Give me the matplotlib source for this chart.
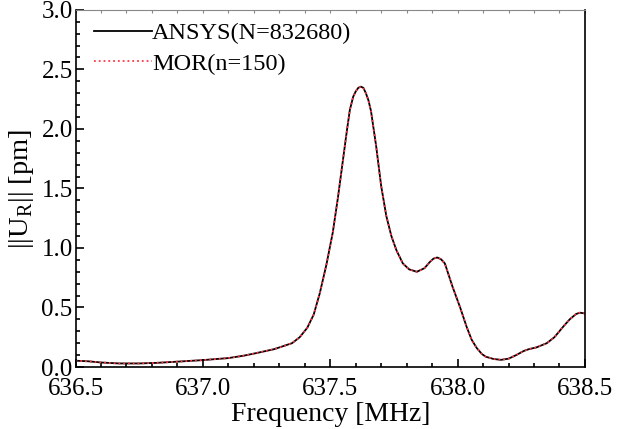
import numpy as np
import matplotlib
matplotlib.use('Agg')
from matplotlib import pyplot as plt
from matplotlib.ticker import MultipleLocator, FormatStrFormatter

# frequency [MHz] and response ||U_R|| [pm]
freq = [636.50, 636.55, 636.60, 636.67, 636.75, 636.82, 636.90, 637.00, 637.10,
        637.16, 637.21, 637.28, 637.35, 637.38, 637.41, 637.435, 637.459, 637.485,
        637.51, 637.53, 637.55, 637.565, 637.577, 637.59, 637.60, 637.61, 637.62,
        637.63, 637.64, 637.65, 637.66, 637.68, 637.70, 637.72, 637.74, 637.76,
        637.785, 637.81, 637.84, 637.87, 637.89, 637.905, 637.92, 637.935, 637.95,
        637.98, 638.01, 638.035, 638.055, 638.075, 638.095, 638.11, 638.14, 638.17,
        638.20, 638.23, 638.26, 638.28, 638.31, 638.35, 638.38, 638.415, 638.44,
        638.465, 638.48, 638.50]
ansys = [0.053, 0.048, 0.038, 0.030, 0.030, 0.035, 0.045, 0.058, 0.075,
         0.095, 0.117, 0.150, 0.200, 0.250, 0.330, 0.440, 0.620, 0.860,
         1.130, 1.420, 1.740, 1.980, 2.160, 2.270, 2.315, 2.345, 2.355,
         2.345, 2.300, 2.240, 2.150, 1.860, 1.520, 1.270, 1.100, 0.980,
         0.870, 0.820, 0.800, 0.830, 0.880, 0.910, 0.920, 0.905, 0.870,
         0.675, 0.500, 0.340, 0.230, 0.160, 0.110, 0.087, 0.068, 0.060,
         0.070, 0.100, 0.135, 0.150, 0.165, 0.200, 0.250, 0.340, 0.400,
         0.445, 0.456, 0.450]
mor = list(ansys)

plt.rcParams['font.family'] = ['Liberation Serif', 'DejaVu Serif']
plt.rcParams['mathtext.fontset'] = 'custom'
plt.rcParams['mathtext.rm'] = 'Liberation Serif'

fig = plt.figure(figsize=(6.19, 4.29), dpi=100)
ax = fig.add_axes([0.122, 0.1445, 0.823, 0.8325])
ax.plot(freq, ansys, '-', color='black', lw=1.3, label='ANSYS(N=832680)')
ax.plot(freq, mor, ':', color='#ff3848', lw=1.3, label='MOR(n=150)')

ax.set_xlim(636.5, 638.5)
ax.set_ylim(0, 3.0)
ax.xaxis.set_major_locator(MultipleLocator(0.5))
ax.xaxis.set_minor_locator(MultipleLocator(0.1))
ax.yaxis.set_major_locator(MultipleLocator(0.5))
ax.yaxis.set_minor_locator(MultipleLocator(0.1))
ax.xaxis.set_major_formatter(FormatStrFormatter('%.1f'))
ax.yaxis.set_major_formatter(FormatStrFormatter('%.1f'))
ax.tick_params(which='both', direction='in', labelsize=18, top=False, right=False, width=1.2)
ax.tick_params(which='major', length=6)
ax.tick_params(which='minor', length=3)
ax.tick_params(axis='x', pad=8)
ax.tick_params(axis='y', pad=2)
ax.spines['top'].set_color('#888888')
for s in ['left', 'bottom', 'right']:
    ax.spines[s].set_linewidth(1.2)

sec = ax.secondary_xaxis('top')
sec.xaxis.set_major_locator(MultipleLocator(0.1))
sec.tick_params(direction='in', length=2, color='#888888', labeltop=False)
sec.spines['top'].set_visible(False)

ax.set_xlabel('Frequency [MHz]', fontsize=20, labelpad=1)
ax.set_ylabel(r'$||\mathrm{U}_{\mathrm{R}}||$ [pm]', fontsize=20.5, labelpad=4)

ax.legend(loc='upper left', frameon=False, fontsize=17.5, handlelength=2.4,
          handletextpad=0.0, borderaxespad=0.1, labelspacing=0.35,
          bbox_to_anchor=(0.012, 1.0))

fig.savefig('out.png', dpi=100)
